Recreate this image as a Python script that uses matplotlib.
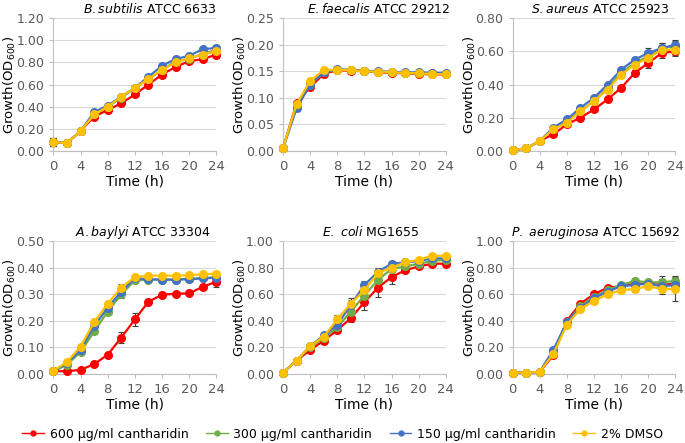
import matplotlib
matplotlib.use("Agg")
import matplotlib.pyplot as plt
from matplotlib.lines import Line2D

hours = [0, 2, 4, 6, 8, 10, 12, 14, 16, 18, 20, 22, 24]
series_labels = ["600 µg/ml cantharidin", "300 µg/ml cantharidin",
                 "150 µg/ml cantharidin", "2% DMSO"]
colors = ["#ff0000", "#70ad47", "#4472c4", "#ffc000"]

# B.subtilis ATCC 6633
bs_600 = [0.08, 0.07, 0.18, 0.31, 0.37, 0.43, 0.51, 0.60, 0.69, 0.76, 0.81, 0.83, 0.87]
bs_300 = [0.08, 0.07, 0.18, 0.33, 0.40, 0.48, 0.57, 0.65, 0.73, 0.81, 0.83, 0.88, 0.91]
bs_150 = [0.08, 0.07, 0.18, 0.35, 0.41, 0.49, 0.57, 0.67, 0.77, 0.83, 0.86, 0.92, 0.93]
bs_dmso = [0.08, 0.07, 0.18, 0.33, 0.40, 0.49, 0.57, 0.65, 0.73, 0.80, 0.84, 0.87, 0.90]
bs_err = [0.04, 0.01, 0.01, 0.01, 0.01, 0.01, 0.01, 0.01, 0.015, 0.01, 0.015, 0.02, 0.03]

# E.faecalis ATCC 29212
ef_600 = [0.005, 0.090, 0.120, 0.145, 0.152, 0.151, 0.150, 0.148, 0.147, 0.146, 0.145, 0.144, 0.144]
ef_300 = [0.005, 0.085, 0.125, 0.148, 0.153, 0.152, 0.150, 0.149, 0.148, 0.147, 0.146, 0.146, 0.145]
ef_150 = [0.005, 0.080, 0.125, 0.148, 0.154, 0.153, 0.151, 0.150, 0.149, 0.148, 0.148, 0.147, 0.147]
ef_dmso = [0.005, 0.088, 0.132, 0.152, 0.153, 0.152, 0.150, 0.149, 0.148, 0.147, 0.146, 0.145, 0.144]
ef_err = [0.001, 0.004, 0.004, 0.003, 0.003, 0.003, 0.003, 0.003, 0.003, 0.003, 0.003, 0.003, 0.003]

# S.aureus ATCC 25923
sa_600 = [0.005, 0.015, 0.06, 0.10, 0.16, 0.20, 0.25, 0.31, 0.38, 0.47, 0.53, 0.59, 0.60]
sa_300 = [0.005, 0.015, 0.06, 0.13, 0.18, 0.24, 0.30, 0.38, 0.47, 0.53, 0.57, 0.62, 0.63]
sa_150 = [0.005, 0.015, 0.06, 0.14, 0.19, 0.26, 0.32, 0.40, 0.49, 0.55, 0.59, 0.62, 0.64]
sa_dmso = [0.005, 0.015, 0.06, 0.13, 0.17, 0.24, 0.30, 0.37, 0.46, 0.52, 0.56, 0.61, 0.61]
sa_err = [0.002, 0.003, 0.005, 0.01, 0.01, 0.01, 0.01, 0.01, 0.01, 0.015, 0.03, 0.03, 0.03]

# A.baylyi ATCC 33304
ab_600 = [0.010, 0.010, 0.015, 0.037, 0.072, 0.137, 0.205, 0.272, 0.298, 0.302, 0.303, 0.328, 0.347]
ab_300 = [0.010, 0.035, 0.083, 0.160, 0.235, 0.300, 0.352, 0.355, 0.355, 0.355, 0.358, 0.360, 0.365]
ab_150 = [0.010, 0.040, 0.090, 0.180, 0.250, 0.310, 0.360, 0.357, 0.355, 0.355, 0.357, 0.360, 0.362]
ab_dmso = [0.012, 0.045, 0.103, 0.195, 0.265, 0.325, 0.365, 0.370, 0.370, 0.370, 0.372, 0.375, 0.378]
ab_err_600 = [0.002, 0.003, 0.005, 0.005, 0.01, 0.02, 0.025, 0.01, 0.006, 0.006, 0.006, 0.008, 0.02]
ab_err = [0.002, 0.004, 0.006, 0.008, 0.01, 0.015, 0.008, 0.005, 0.005, 0.005, 0.005, 0.006, 0.006]

# E. coli MG1655
ec_600 = [0.01, 0.10, 0.18, 0.25, 0.33, 0.42, 0.54, 0.65, 0.73, 0.78, 0.81, 0.83, 0.83]
ec_300 = [0.01, 0.10, 0.20, 0.27, 0.35, 0.47, 0.59, 0.71, 0.79, 0.81, 0.83, 0.85, 0.86]
ec_150 = [0.01, 0.10, 0.21, 0.29, 0.37, 0.52, 0.67, 0.77, 0.83, 0.84, 0.85, 0.87, 0.87]
ec_dmso = [0.01, 0.10, 0.21, 0.28, 0.41, 0.53, 0.63, 0.76, 0.80, 0.84, 0.86, 0.89, 0.89]
ec_err_600 = [0.002, 0.005, 0.01, 0.01, 0.02, 0.03, 0.06, 0.07, 0.05, 0.02, 0.01, 0.01, 0.01]
ec_err = [0.002, 0.005, 0.01, 0.01, 0.03, 0.04, 0.03, 0.03, 0.02, 0.01, 0.01, 0.01, 0.01]

# P. aeruginosa ATCC 15692
pa_600 = [0.01, 0.01, 0.015, 0.14, 0.40, 0.53, 0.60, 0.65, 0.66, 0.68, 0.68, 0.67, 0.68]
pa_300 = [0.01, 0.01, 0.015, 0.17, 0.39, 0.51, 0.58, 0.63, 0.67, 0.70, 0.69, 0.69, 0.70]
pa_150 = [0.01, 0.01, 0.015, 0.18, 0.39, 0.50, 0.57, 0.62, 0.66, 0.67, 0.68, 0.66, 0.67]
pa_dmso = [0.01, 0.01, 0.015, 0.15, 0.37, 0.49, 0.55, 0.60, 0.63, 0.64, 0.66, 0.64, 0.64]
pa_err = [0.002, 0.002, 0.003, 0.01, 0.01, 0.01, 0.01, 0.01, 0.01, 0.02, 0.02, 0.045, 0.04]
pa_err_dmso = [0.002, 0.002, 0.003, 0.01, 0.01, 0.01, 0.01, 0.01, 0.01, 0.02, 0.02, 0.04, 0.09]

panels = [
    (r"$\it{B.subtilis}$ ATCC 6633", [bs_600, bs_300, bs_150, bs_dmso],
     [bs_err, bs_err, bs_err, bs_err], 1.2, 0.2),
    (r"$\it{E.faecalis}$ ATCC 29212", [ef_600, ef_300, ef_150, ef_dmso],
     [ef_err, ef_err, ef_err, ef_err], 0.25, 0.05),
    (r"$\it{S.aureus}$ ATCC 25923", [sa_600, sa_300, sa_150, sa_dmso],
     [sa_err, sa_err, sa_err, sa_err], 0.8, 0.2),
    (r"$\it{A.baylyi}$ ATCC 33304", [ab_600, ab_300, ab_150, ab_dmso],
     [ab_err_600, ab_err, ab_err, ab_err], 0.5, 0.1),
    (r"$\it{E.}$ $\it{coli}$ MG1655", [ec_600, ec_300, ec_150, ec_dmso],
     [ec_err_600, ec_err, ec_err, ec_err], 1.0, 0.2),
    (r"$\it{P.}$ $\it{aeruginosa}$ ATCC 15692", [pa_600, pa_300, pa_150, pa_dmso],
     [pa_err, pa_err, pa_err, pa_err_dmso], 1.0, 0.2),
]
title_x = [0.59, 0.59, 0.54, 0.55, 0.54, 0.51]

plt.rcParams['font.family'] = 'DejaVu Sans'
plt.rcParams['mathtext.fontset'] = 'dejavusans'

fig, axes = plt.subplots(2, 3, figsize=(6.85, 4.43), dpi=100)
plt.subplots_adjust(left=0.078, right=0.986, top=0.959, bottom=0.156,
                    wspace=0.41, hspace=0.68)

for ax, (title, values, errs, ymax, ystep), tx in zip(axes.flat, panels, title_x):
    for vals, err, c in zip(values, errs, colors):
        ax.errorbar(hours, vals, yerr=err, fmt='none', ecolor='#404040',
                    elinewidth=0.8, capsize=2, capthick=0.8, zorder=2, clip_on=False)
        ax.plot(hours, vals, color=c, lw=1.6, marker='o', ms=5.5,
                zorder=3, clip_on=False)
    ax.set_xlim(0, 24)
    ax.set_ylim(0, ymax)
    ax.set_xticks(range(0, 25, 4))
    n = int(round(ymax / ystep))
    yt = [i * ystep for i in range(n + 1)]
    ax.set_yticks(yt)
    ax.set_yticklabels(["{:.2f}".format(v) for v in yt])
    ax.grid(axis='y', color='#d9d9d9', lw=0.8)
    ax.set_axisbelow(True)
    for s in ['top', 'right']:
        ax.spines[s].set_visible(False)
    for s in ['left', 'bottom']:
        ax.spines[s].set_color('#bfbfbf')
    ax.tick_params(colors='#bfbfbf', labelcolor='#595959', labelsize=9, length=3)
    ax.tick_params(axis='x', labelsize=9.5)
    ax.set_xlabel("Time (h)", fontsize=10, labelpad=1)
    ax.set_ylabel(r"Growth(OD$_{600}$)", fontsize=9.5)
    ax.yaxis.set_label_coords(-0.215, 0.5)
    ax.set_title(title, fontsize=9, x=tx, pad=4)

handles = [Line2D([], [], color=c, lw=1, marker='o', ms=3.5) for c in colors]
fig.legend(handles, series_labels, loc='lower center', bbox_to_anchor=(0.5, -0.02),
           ncol=4, frameon=False, fontsize=9, handlelength=1.75, handletextpad=0.45,
           columnspacing=1.4)

fig.savefig("out.png", dpi=100)
